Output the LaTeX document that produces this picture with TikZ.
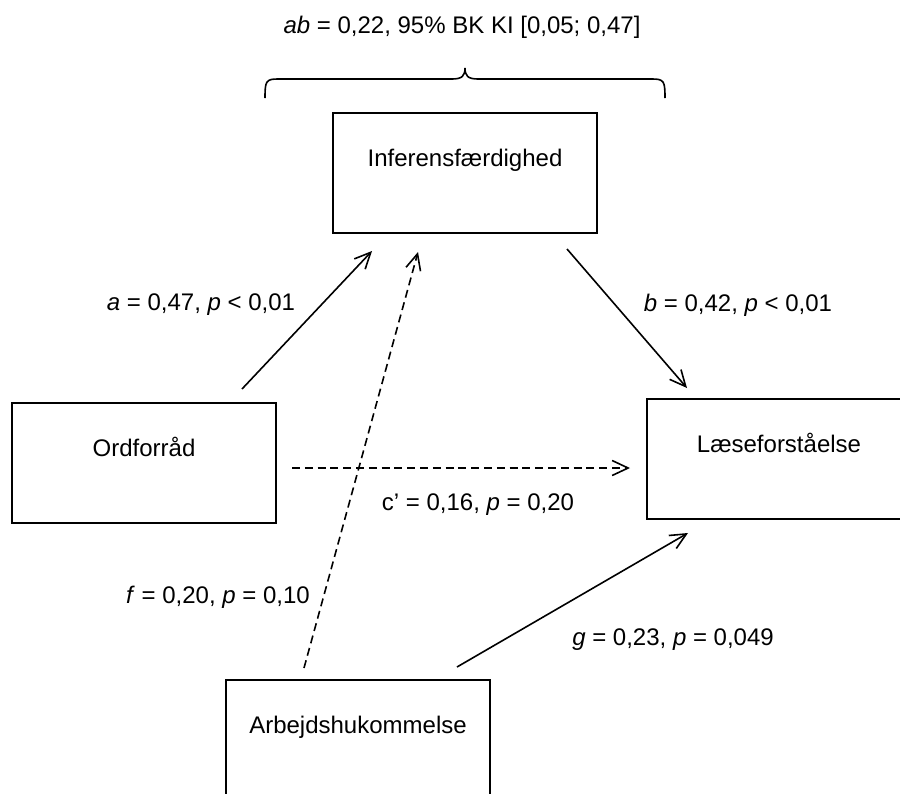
\documentclass[tikz,border=0pt]{standalone}
\usepackage{fontspec}
\setmainfont{Liberation Sans}
\usetikzlibrary{positioning,arrows.meta}

\tikzset{
  var/.style={draw, line width=1pt, minimum width=132pt, minimum height=60pt,
    inner sep=0pt, text height=9pt, text depth=15.4pt},
  link/.style={line width=0.8pt, -{Straight Barb[length=8pt,width=7.5pt]}},
  indirect/.style={dash pattern=on 4pt off 2.4pt},
}

\begin{document}
\begin{tikzpicture}[x=0.5pt,y=-0.5pt,on grid,font=\fontsize{12pt}{14pt}\selectfont]
   \useasboundingbox (0,0) rectangle (900,793);
   \clip (0,0) rectangle (900,793);

   % variables
   \node[var] (inf) at (465,173) {Inferensfærdighed};
   \node[var] (ord) [below left=145pt and 160.5pt of inf] {Ordforråd};
   \node[var] (lae) [below right=143pt and 157pt of inf] {Læseforståelse};
   \node[var] (arb) [below left=283.5pt and 53.5pt of inf] {Arbejdshukommelse};

   % indirect effect
   \node (ab) at (462,27) {\textit{ab} = 0,22, 95\% BK KI [0,05; 0,47]};
   \draw[line width=0.8pt] (265,98) .. controls (265,81) and (266,79) .. (278,79)
      -- (452,79) .. controls (462,79) and (465,76) .. (465,68)
      .. controls (465,76) and (468,79) .. (478,79)
      -- (652,79) .. controls (664,79) and (665,81) .. (665,98);

   \coordinate (a_0) at (242,389); \coordinate (a_1) at (372,251);
   \coordinate (b_0) at (567,249); \coordinate (b_1) at (687,388);
   \coordinate (c_0) at (292,468); \coordinate (c_1) at (630,468);
   \coordinate (f_0) at (304,668); \coordinate (f_1) at (418,252);
   \coordinate (g_0) at (457,667); \coordinate (g_1) at (688,533);

   \path[link]
    (a_0) edge (a_1)
    (b_0) edge (b_1)
    (g_0) edge (g_1)
    (c_0) edge [indirect] (c_1)
    (f_0) edge [indirect] (f_1);

   % coefficients
   \node (lab_a) at (201,305) {\textit{a} = 0,47, \textit{p} < 0,01};
   \node (lab_b) at (738,305) {\textit{b} = 0,42, \textit{p} < 0,01};
   \node (lab_c) at (478,505) {c’ = 0,16, \textit{p} = 0,20};
   \node (lab_f) at (218,597) {\textit{f} = 0,20, \textit{p} = 0,10};
   \node (lab_g) at (673,640) {\textit{g} = 0,23, \textit{p} = 0,049};
\end{tikzpicture}
\end{document}
